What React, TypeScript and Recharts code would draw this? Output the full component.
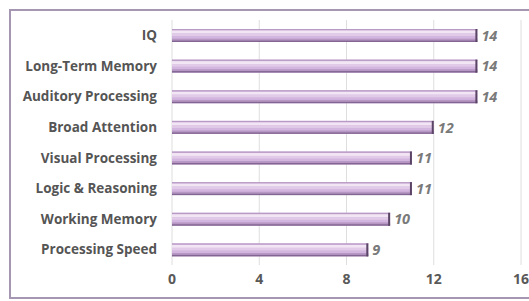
import { BarChart, Bar, XAxis, YAxis, CartesianGrid, LabelList } from 'recharts';

const categories = [
    'IQ',
    'Long-Term Memory',
    'Auditory Processing',
    'Broad Attention',
    'Visual Processing',
    'Logic & Reasoning',
    'Working Memory',
    'Processing Speed',
];
const scores = [14, 14, 14, 12, 11, 11, 10, 9];
const xTicks = [0, 4, 8, 12, 16];

const data = categories.map((name, i) => ({ name, score: scores[i] }));

// glossy purple bar with a dark cap at the end
function GlossyBar(props: any) {
    const x = Number(props.x);
    const y = Number(props.y);
    const width = Number(props.width);
    const height = Number(props.height);
    if (!(width > 0)) return <g />;
    return (
        <g>
            <rect x={x} y={y} width={width} height={height} fill="#d3b6df" />
            <rect x={x} y={y} width={width} height={height * 0.1} fill="#b89bc4" />
            <rect x={x} y={y + height * 0.12} width={width} height={height * 0.22} fill="#f3e6f4" />
            <rect x={x} y={y + height * 0.34} width={width} height={height * 0.2} fill="#e1cbe8" />
            <rect x={x} y={y + height * 0.74} width={width} height={height * 0.14} fill="#b696c3" />
            <rect x={x} y={y + height * 0.88} width={width} height={height * 0.12} fill="#836593" />
            <rect x={x + width - 2} y={y} width={2} height={height} fill="#5b4566" />
        </g>
    );
}

export default function App() {
    return (
        <div style={{ position: 'absolute', left: 0, top: 0, width: 529, height: 301, background: '#fff', overflow: 'hidden' }}>
            {/* frame */}
            <div
                style={{
                    position: 'absolute',
                    left: 9,
                    top: 9,
                    width: 540,
                    height: 286,
                    border: '2px solid #a597b3',
                }}
            />
            <div style={{ position: 'absolute', left: 0, top: 0 }}>
                <BarChart
                    width={529}
                    height={301}
                    data={data}
                    layout="vertical"
                    margin={{ top: 20, right: 8, left: 0, bottom: 0 }}
                    barSize={13}
                >
                    <CartesianGrid horizontal={false} stroke="#dedede" />
                    <XAxis
                        type="number"
                        domain={[0, 16]}
                        ticks={xTicks}
                        axisLine={false}
                        tickLine={false}
                        height={36}
                        tickMargin={3}
                        tick={{ fontSize: 14, fontWeight: 700, fill: '#595959', fontFamily: 'Open Sans' }}
                    />
                    <YAxis
                        type="category"
                        dataKey="name"
                        width={172}
                        axisLine={false}
                        tickLine={false}
                        tickMargin={9}
                        tick={{ fontSize: 13.5, fontWeight: 700, fill: '#555555', fontFamily: 'Open Sans' }}
                    />
                    <Bar
                        dataKey="score"
                        shape={(p: any) => <GlossyBar {...p} />}
                        isAnimationActive={false}
                    >
                        <LabelList
                            dataKey="score"
                            position="right"
                            offset={4}
                            style={{ fontSize: 14.5, fontStyle: 'italic', fontWeight: 700, fill: '#7a7a7a', fontFamily: 'Open Sans' }}
                        />
                    </Bar>
                </BarChart>
            </div>
        </div>
    );
}
